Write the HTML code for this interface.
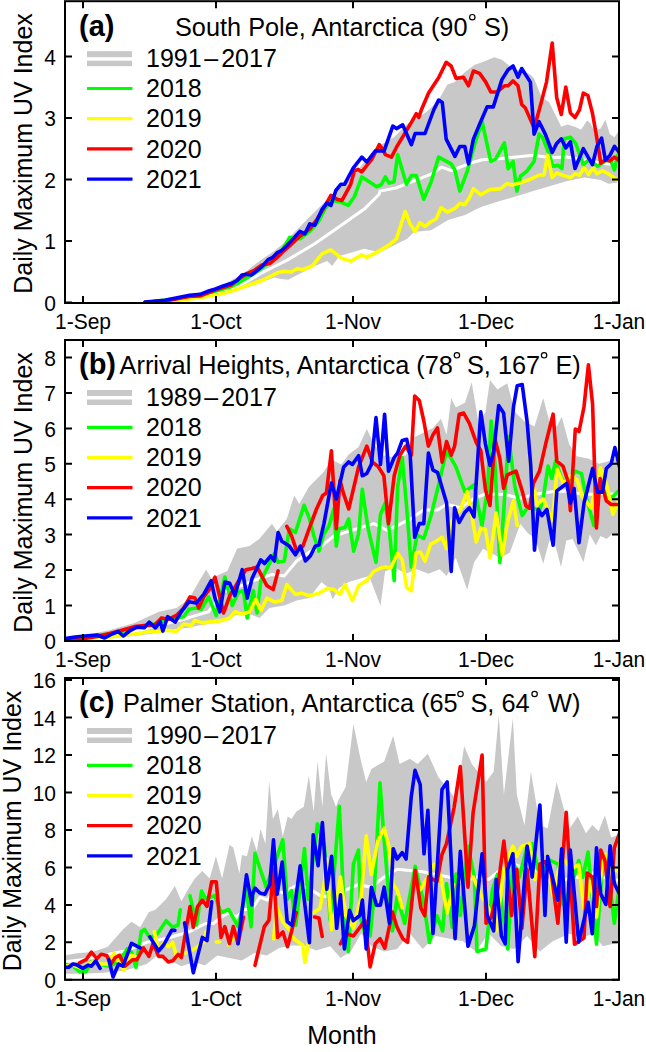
<!DOCTYPE html>
<html><head><meta charset="utf-8">
<style>
html,body{margin:0;padding:0;background:#fff;}
svg{display:block;}
text{font-family:"Liberation Sans",sans-serif;fill:#000;}
</style></head>
<body>
<svg width="646" height="1052" viewBox="0 0 646 1052">
<clipPath id="ca"><rect x="65" y="1.2" width="554" height="301.8"/></clipPath>
<g clip-path="url(#ca)" fill="none" stroke-linejoin="round" stroke-linecap="round">
<path d="M145.0 302.5L145.0 301.5L164.8 299.5L189.5 294.0L200.0 293.7L215.5 288.2L231.0 280.5L246.4 271.2L254.2 265.0L265.0 257.3L274.3 251.1L283.6 243.3L327.2 199.2L351.9 176.9L376.7 147.2L394.0 137.2L408.9 122.4L418.8 117.4L428.7 110.0L438.6 100.1L447.4 84.6L454.9 82.1L464.8 72.2L474.7 64.8L482.1 62.3L494.5 57.3L501.9 59.8L508.1 64.8L514.3 69.7L523.0 71.0L530.4 74.7L534.1 78.4L541.5 97.0L549.0 101.9L555.2 114.5L561.3 126.7L567.4 124.4L575.0 126.7L581.0 129.7L587.1 120.6L590.2 122.9L594.7 131.2L600.8 128.2L605.4 119.8L609.9 134.3L614.5 137.3L620.6 128.2L620.6 182.1L608.4 183.7L600.8 179.9L584.4 177.5L567.3 180.9L550.3 186.0L533.3 191.1L516.2 196.2L499.2 201.3L482.2 206.4L475.4 209.8L465.1 214.9L448.1 220.0L431.1 230.3L414.1 232.0L407.2 238.8L393.6 245.6L380.0 252.4L364.3 248.7L339.5 256.1L332.1 266.0L327.2 261.1L314.8 266.0L288.2 279.7L280.5 278.9L274.3 277.4L261.9 282.0L246.4 287.5L231.0 292.9L215.5 296.7L200.0 298.3L189.5 300.2L164.8 302.7L145.0 302.7L145.0 302.8Z" fill="#c8c8c8" stroke="none"/>
<path d="M145.0 302.5L164.8 301.5L189.5 298.2L200.0 295.7L215.5 292.9L231.0 288.2L246.4 282.0L261.9 272.8L277.4 265.0L286.7 260.4L314.8 243.7L339.5 226.4L364.3 209.1L379.2 194.2L380.0 191.1L397.0 187.7L414.1 180.9L431.1 174.1L441.3 167.2L451.5 170.7L468.6 163.8L482.2 159.8L499.2 158.7L516.2 157.0L533.3 155.3L550.3 157.7L567.3 157.0L600.8 163.1L608.4 163.9L620.6 163.1" stroke="#fff" stroke-width="3"/>
<path d="M145.0 302.5L189.5 297.0L200.0 295.2L215.5 291.3L231.0 286.7L238.7 282.8L246.4 278.2L254.2 273.5L261.9 268.1L269.7 261.9L277.4 255.0L283.6 248.0L289.8 237.2L299.9 238.8L309.8 231.4L318.5 221.5L324.7 209.1L332.1 200.4L339.5 201.6L348.2 205.4L354.4 196.7L361.8 176.9L369.3 181.8L376.7 186.8L381.6 184.3L385.4 176.9L389.1 183.1L394.0 181.8L397.7 154.6L406.4 184.3L411.4 175.6L416.3 175.6L423.7 199.2L431.2 181.8L438.6 157.1L451.1 163.8L454.9 170.0L459.8 191.1L467.2 171.3L474.7 144.0L482.1 121.7L490.8 161.4L495.7 158.9L504.4 142.8L508.1 168.8L513.1 161.4L516.8 191.1L520.5 176.2L526.7 171.3L534.1 161.4L539.1 134.1L542.8 137.8L549.0 153.9L552.9 166.2L558.2 165.4L562.0 168.5L564.3 138.8L570.4 137.3L575.7 143.4L583.3 164.7L588.6 160.1L593.2 163.1L597.8 166.2L602.3 163.1L609.9 157.8L614.5 170.0L617.5 155.5L620.6 151.0" stroke="#00ff00" stroke-width="3.6"/>
<path d="M145.0 302.5L145.0 302.7L164.8 302.0L189.5 299.0L200.0 297.5L215.5 295.2L231.0 291.3L246.4 285.9L261.9 280.5L277.4 272.8L283.6 271.2L291.3 272.0L297.4 268.5L302.4 269.8L312.3 266.0L322.2 253.7L330.9 249.9L342.0 258.6L350.7 261.1L361.8 254.9L366.8 257.4L376.7 252.4L389.1 245.0L396.5 238.8L405.2 211.5L410.1 223.9L415.1 231.4L420.0 222.7L425.0 226.4L431.2 221.5L436.1 219.0L441.1 207.8L447.4 212.1L454.9 208.4L459.8 203.5L464.8 204.7L469.7 197.3L473.4 188.6L480.9 194.8L489.5 189.8L500.7 188.6L506.9 183.7L511.8 184.9L521.7 182.4L531.6 178.7L539.1 175.0L544.0 175.0L547.7 155.2L552.2 177.6L556.7 173.0L562.8 175.3L570.4 177.6L575.0 173.8L579.5 175.3L584.1 167.7L588.6 174.5L593.2 167.7L597.0 173.8L602.3 170.7L608.4 173.8L614.5 178.3L620.6 181.4" stroke="#ffff00" stroke-width="3.6"/>
<path d="M145.0 302.5L145.0 302.4L164.8 301.0L189.5 296.5L200.0 296.0L215.5 289.8L231.0 285.1L238.7 278.9L246.4 274.0L254.2 270.4L261.9 265.0L269.7 263.5L277.4 257.3L283.6 251.1L289.8 245.7L299.9 236.3L309.8 228.9L317.2 219.0L324.7 206.6L330.9 195.4L337.1 199.2L342.0 200.4L350.7 184.3L354.4 170.7L358.1 169.4L361.8 171.9L371.7 159.5L379.2 144.7L382.9 149.6L385.4 154.6L391.5 157.1L396.5 147.2L403.9 134.8L411.4 122.4L416.3 113.7L418.8 117.4L421.3 110.0L428.7 92.7L438.6 77.8L446.2 62.3L451.1 66.0L456.1 78.4L463.5 77.2L468.5 85.8L473.4 71.0L479.6 73.4L485.8 82.1L490.8 92.0L497.0 92.0L504.4 85.8L508.1 85.8L513.1 80.9L518.0 85.8L521.7 104.4L525.4 108.1L534.1 127.9L539.1 110.6L546.5 82.1L552.2 43.0L556.7 97.8L561.3 114.5L565.8 87.1L570.4 113.0L575.0 117.5L579.5 109.9L583.3 93.2L587.9 95.5L592.4 113.0L596.2 134.3L600.8 163.1L605.4 160.1L609.9 160.9L614.5 157.1L620.6 161.6" stroke="#ff0000" stroke-width="3.6"/>
<path d="M145.0 302.5L145.0 302.0L164.8 300.2L189.5 295.3L200.0 294.4L207.7 291.3L215.5 289.0L223.2 285.9L231.0 283.6L237.2 280.5L241.8 275.1L246.4 274.3L251.1 275.1L257.3 270.4L261.9 266.6L268.1 259.6L272.8 257.3L277.4 252.6L282.0 250.3L286.7 245.7L299.9 231.4L304.9 233.8L309.8 223.9L314.8 225.2L322.2 209.1L327.2 202.9L330.9 205.4L335.8 190.5L340.8 184.3L344.5 184.3L353.2 168.2L361.8 157.1L366.8 162.0L375.4 150.9L384.1 150.9L392.8 126.1L396.5 128.6L402.7 124.9L411.4 144.7L415.1 133.5L425.0 133.5L433.7 110.0L438.6 100.1L442.3 102.6L446.2 139.1L454.9 156.4L459.8 146.5L464.8 146.5L468.5 163.8L473.4 139.1L479.6 124.2L487.1 106.9L493.3 106.9L501.9 79.6L508.1 69.7L513.1 66.0L518.0 77.2L521.7 68.5L530.4 82.1L534.1 134.1L539.1 121.7L545.3 134.1L552.2 152.5L556.7 143.4L561.3 138.8L565.8 147.9L570.4 141.9L575.0 168.5L583.3 148.7L592.4 164.7L597.0 146.4L601.6 138.1L605.4 160.1L609.9 155.5L614.5 146.4L620.6 154.0" stroke="#0000ff" stroke-width="3.6"/>
</g>
<rect x="65" y="1.2" width="554" height="301.8" fill="none" stroke="#000" stroke-width="2"/>
<path d="M65 302.5h7M619 302.5h-7M65 241h7M619 241h-7M65 179.5h7M619 179.5h-7M65 118h7M619 118h-7M65 56.5h7M619 56.5h-7M83 1.2v7M83 303v-7M216 1.2v7M216 303v-7M353 1.2v7M353 303v-7M486 1.2v7M486 303v-7" stroke="#000" stroke-width="2"/>
<g font-size="21" text-anchor="end"><text transform="translate(56 302.5) scale(1 1.07)" y="7.6">0</text><text transform="translate(56 241.0) scale(1 1.07)" y="7.6">1</text><text transform="translate(56 179.5) scale(1 1.07)" y="7.6">2</text><text transform="translate(56 118.0) scale(1 1.07)" y="7.6">3</text><text transform="translate(56 56.5) scale(1 1.07)" y="7.6">4</text></g>
<g font-size="21" text-anchor="middle"><text transform="translate(83 321.4) scale(1 1.07)" y="7.2">1-Sep</text><text transform="translate(216 321.4) scale(1 1.07)" y="7.2">1-Oct</text><text transform="translate(353 321.4) scale(1 1.07)" y="7.2">1-Nov</text><text transform="translate(486 321.4) scale(1 1.07)" y="7.2">1-Dec</text><text transform="translate(619 321.4) scale(1 1.07)" y="7.2">1-Jan</text></g>
<text x="79" y="35.5" font-size="29" font-weight="700">(a)</text>
<text x="175" y="35.5" font-size="25.3">South Pole, Antarctica (90</text><text x="484" y="35.5" font-size="25.3">S)</text><circle cx="472.3" cy="17.2" r="2.7" fill="none" stroke="#000" stroke-width="1.2"/>
<rect x="87" y="51.2" width="45" height="15" fill="#c8c8c8"/><rect x="87" y="57.2" width="45" height="3.5" fill="#fff"/>
<g stroke-width="3.2"><path d="M87 88.5H132.5" stroke="#00ff00"/><path d="M87 118.7H132.5" stroke="#ffff00"/><path d="M87 148.9H132.5" stroke="#ff0000"/><path d="M87 179.1H132.5" stroke="#0000ff"/></g>
<g font-size="25"><text x="146" y="66.7">1991<tspan x="204.2">–</tspan><tspan x="221.2">2017</tspan></text><text x="146" y="97.1">2018</text><text x="146" y="127.3">2019</text><text x="146" y="157.5">2020</text><text x="146" y="187.7">2021</text></g>
<clipPath id="cb"><rect x="65" y="340" width="554" height="301"/></clipPath>
<g clip-path="url(#cb)" fill="none" stroke-linejoin="round" stroke-linecap="round">
<path d="M65.0 638.0L84.8 635.3L109.5 630.3L134.3 622.9L159.1 611.7L176.4 608.0L188.8 599.3L198.7 582.0L206.1 569.6L211.1 578.3L227.3 570.9L237.2 548.6L249.6 546.1L259.5 538.7L271.9 523.8L276.9 531.3L286.8 518.9L294.2 495.4L299.2 504.0L309.1 486.7L319.0 476.8L323.9 471.8L331.4 459.4L341.3 464.4L348.7 454.5L358.6 447.1L366.8 429.0L373.7 443.8L382.8 455.2L394.2 457.5L405.6 455.2L414.7 437.0L423.8 432.4L433.0 427.9L440.9 418.8L446.6 434.7L451.2 398.2L455.8 407.4L464.9 402.8L471.7 382.3L478.6 423.3L485.4 411.9L490.0 380.0L497.4 389.5L507.3 383.3L514.7 411.7L524.6 421.6L534.5 426.6L543.2 398.1L549.4 421.6L556.8 426.6L561.7 416.7L569.1 443.9L576.6 456.3L588.9 458.7L598.8 463.7L608.7 461.2L621.1 456.3L628.4 536.0L620.0 536.0L612.9 532.9L606.7 539.1L600.5 536.0L595.9 545.3L589.7 534.4L583.5 562.3L572.6 539.1L566.4 540.6L561.0 566.9L554.1 540.6L549.4 540.6L543.2 563.8L535.5 539.1L527.7 532.9L520.0 523.6L519.7 525.5L509.8 552.7L499.9 557.7L483.1 548.7L474.0 562.4L467.2 589.8L455.8 557.8L446.6 576.1L439.8 569.2L428.4 573.8L417.0 569.2L405.6 573.8L394.2 567.0L385.1 571.5L380.5 605.7L369.1 576.1L348.7 582.0L338.8 588.2L332.6 599.4L328.9 588.2L321.5 582.0L309.1 598.1L296.7 600.6L284.3 605.6L269.4 608.0L259.5 618.0L247.2 613.0L234.8 615.5L222.4 621.7L208.6 624.1L198.7 625.4L188.8 627.8L176.4 629.1L159.1 632.8L134.3 636.0L109.5 638.5L84.8 639.5L65.0 640.0Z" fill="#c8c8c8" stroke="none"/>
<path d="M65.0 638.5L84.8 637.7L109.5 635.3L134.3 631.5L159.1 625.4L183.8 619.2L196.2 615.4L208.6 611.7L222.4 592.0L234.8 588.2L247.2 583.3L259.5 578.3L271.9 574.6L284.3 575.9L296.7 561.0L309.1 552.3L321.5 546.1L333.8 536.2L348.7 531.3L373.7 523.6L387.4 530.5L396.5 525.9L410.2 519.1L423.8 510.0L437.5 510.0L446.6 504.3L460.3 507.7L474.0 498.6L485.4 494.0L504.8 494.6L519.7 498.3L534.5 494.6L549.4 492.1L564.2 490.9L579.0 493.4L593.9 494.6L608.7 493.4L621.1 495.8" stroke="#fff" stroke-width="3"/>
<path d="M65.0 639.0L84.8 638.0L97.2 635.3L109.5 634.0L121.9 631.5L134.3 627.8L146.7 625.4L159.1 622.9L169.0 617.9L176.4 617.9L183.8 616.7L188.8 609.3L196.2 608.0L201.2 609.3L208.6 596.9L216.2 615.5L224.9 577.1L232.3 605.6L238.5 592.0L243.4 590.7L247.2 618.0L253.3 590.7L257.1 613.0L260.8 580.8L267.0 568.4L274.4 553.6L278.1 562.2L284.3 561.0L289.3 528.8L295.4 532.5L304.1 505.3L309.1 517.6L314.0 536.2L319.0 551.1L323.9 533.7L328.9 526.3L333.8 509.0L336.3 546.1L338.8 528.8L345.0 527.6L348.7 518.9L353.7 551.1L358.6 533.7L362.3 489.4L368.0 528.2L376.0 562.4L380.5 514.5L385.1 503.1L389.6 532.8L394.2 580.6L397.6 487.2L402.2 457.5L406.7 507.7L411.3 567.0L417.0 535.0L423.8 538.5L430.7 516.8L437.5 489.4L446.6 450.7L455.8 466.6L464.9 491.7L474.0 484.9L482.0 525.9L487.7 487.2L491.1 421.0L494.9 463.7L499.9 562.6L503.6 513.1L508.6 436.5L514.7 485.9L522.2 515.6L527.1 508.2L533.3 508.2L539.5 510.7L543.2 498.3L548.1 466.1L551.8 478.5L555.5 461.2L561.7 478.5L566.7 483.5L575.3 471.1L581.5 473.6L586.5 498.3L593.9 525.5L600.1 485.9L603.8 490.9L611.2 498.3L621.1 488.4" stroke="#00ff00" stroke-width="3.6"/>
<path d="M65.0 639.0L84.8 638.5L97.2 637.0L109.5 637.0L121.9 635.3L134.3 634.0L146.7 632.0L159.1 631.5L166.5 630.3L176.4 631.5L183.8 624.1L191.3 625.4L195.0 620.4L202.4 622.9L208.6 622.1L222.4 620.4L229.8 618.0L234.8 611.8L242.2 614.2L249.6 611.8L255.8 599.4L260.8 610.5L267.0 598.1L274.4 601.9L281.8 600.6L286.8 584.5L295.4 594.4L301.6 593.2L309.1 595.7L319.0 593.2L327.6 588.2L333.8 589.5L340.0 594.4L345.0 584.5L352.4 600.6L358.6 585.8L366.8 580.6L373.7 571.5L380.5 568.1L386.2 567.0L390.8 568.1L397.6 553.3L402.2 560.1L406.7 587.5L411.3 590.9L415.9 553.3L420.4 552.1L425.0 561.3L430.7 544.2L435.2 541.9L442.1 537.3L446.6 548.7L451.2 521.4L455.8 514.5L460.3 510.0L467.2 491.7L471.7 514.5L476.3 541.9L480.8 528.2L485.4 529.3L490.0 557.8L496.2 513.1L502.4 555.2L507.3 523.0L513.5 500.8L517.2 525.5M529.3 455.5L537.0 505.0L543.2 498.8L552.5 520.5L557.2 469.4L563.3 483.3L571.1 475.6L577.3 480.2L581.9 495.7L591.2 508.1L600.5 467.9L606.7 484.9L612.9 514.3L620.0 497.3L628.4 498.8" stroke="#ffff00" stroke-width="3.6"/>
<path d="M65.0 639.5L84.8 638.5L97.2 636.5L109.5 633.5L121.9 630.3L134.3 626.6L146.7 625.4L154.1 625.4L161.5 617.9L169.0 619.2L176.4 615.4L183.8 608.0L190.0 596.9L195.0 598.1L198.7 608.0L203.7 596.9L211.1 587.0L215.0 577.1L223.6 613.0L229.8 595.7L237.2 583.3L245.9 569.7L252.1 568.4L257.1 567.2L267.0 585.8L273.2 589.5L278.1 570.9M286.8 526.3L291.7 536.2L296.7 551.1L302.9 546.1L309.1 528.8L316.5 509.0L322.7 495.4L326.4 492.9L331.4 450.8L336.3 528.8L340.0 480.5L343.7 494.1L348.7 509.0L358.6 466.9L366.8 446.1L372.5 462.1L378.2 466.6L383.9 475.8L388.5 523.6L394.2 475.8L399.9 455.2L405.6 446.1L411.3 455.2L414.7 396.0L419.3 400.5L423.8 421.0L428.4 446.1L433.0 434.7L437.5 427.9L442.1 462.1L446.6 441.6L451.2 455.2L454.6 446.1L459.2 414.2L463.7 413.1L469.4 423.3L476.3 442.7L480.8 450.7L485.4 489.4L490.0 505.4L494.9 438.9L499.9 458.7L503.6 488.4L507.3 474.8L516.0 471.1L522.2 490.9L525.9 505.7L529.6 508.2L533.3 483.5L539.5 471.1L545.7 443.9L553.1 414.2L556.8 461.2L563.0 466.1L567.9 481.0L570.4 510.7L575.3 429.0L579.0 431.5L584.0 406.8L588.4 364.7L592.6 404.3L596.4 528.0L600.1 478.5L606.3 500.8L611.2 504.5L621.1 504.5" stroke="#ff0000" stroke-width="3.6"/>
<path d="M65.0 638.5L74.9 637.0L84.8 636.0L97.2 635.0L104.6 638.0L112.0 634.0L118.2 631.5L123.2 636.0L130.6 630.3L136.8 627.1L144.2 627.8L149.2 622.1L155.4 627.8L160.3 621.6L162.8 631.1L167.7 616.7L175.2 622.1L181.4 611.7L188.8 601.8L196.2 603.1L203.7 594.4L211.1 580.8L215.0 598.1L219.9 611.8L224.9 582.0L229.8 583.3L234.8 595.7L242.2 569.7L247.2 598.1L252.1 578.3L260.8 559.8L264.5 563.5L270.7 556.0L274.4 561.0L278.1 532.5L281.8 541.2L289.3 546.1L295.4 554.8L300.4 546.1L305.4 561.0L310.3 556.0L315.3 546.1L319.0 544.9L323.9 523.8L331.4 483.0L336.3 499.1L343.7 466.9L348.7 461.9L352.4 464.4L358.6 455.7L362.3 475.8L366.8 473.5L371.4 464.4L376.0 417.6L380.5 464.4L384.6 414.2L388.5 471.2L394.2 457.5L397.6 453.0L402.2 440.4L406.7 439.3L410.2 455.2L414.7 537.3L419.3 523.6L423.8 523.6L428.4 453.0L433.0 470.1L437.5 472.3L446.6 503.1L451.2 571.5L454.6 507.7L459.2 522.5L464.9 512.2L469.4 507.7L474.0 516.8L480.8 411.9L485.4 443.8L490.0 465.5L493.7 451.3L498.7 405.5L503.6 413.0L508.6 461.2L513.5 406.8L517.2 385.8L522.2 384.5L527.1 421.6L530.8 466.1L534.5 550.2L538.2 509.4L541.9 515.6L546.9 509.4L553.1 545.3L556.8 490.9L566.7 483.5L570.4 503.2L574.1 488.4L579.0 542.8L584.0 503.2L592.6 468.6L597.6 492.1L602.5 492.1L606.3 468.6L611.2 463.7L614.9 447.6L621.1 473.6" stroke="#0000ff" stroke-width="3.6"/>
</g>
<rect x="65" y="340" width="554" height="301" fill="none" stroke="#000" stroke-width="2"/>
<path d="M65 640.8h7M619 640.8h-7M65 605.4h7M619 605.4h-7M65 570.0h7M619 570.0h-7M65 534.5999999999999h7M619 534.5999999999999h-7M65 499.19999999999993h7M619 499.19999999999993h-7M65 463.79999999999995h7M619 463.79999999999995h-7M65 428.4h7M619 428.4h-7M65 393.0h7M619 393.0h-7M65 357.59999999999997h7M619 357.59999999999997h-7M83 340v7M83 641v-7M216 340v7M216 641v-7M353 340v7M353 641v-7M486 340v7M486 641v-7" stroke="#000" stroke-width="2"/>
<g font-size="21" text-anchor="end"><text transform="translate(56 640.8) scale(1 1.07)" y="7.6">0</text><text transform="translate(56 605.4) scale(1 1.07)" y="7.6">1</text><text transform="translate(56 570.0) scale(1 1.07)" y="7.6">2</text><text transform="translate(56 534.6) scale(1 1.07)" y="7.6">3</text><text transform="translate(56 499.2) scale(1 1.07)" y="7.6">4</text><text transform="translate(56 463.8) scale(1 1.07)" y="7.6">5</text><text transform="translate(56 428.4) scale(1 1.07)" y="7.6">6</text><text transform="translate(56 393.0) scale(1 1.07)" y="7.6">7</text><text transform="translate(56 357.6) scale(1 1.07)" y="7.6">8</text></g>
<g font-size="21" text-anchor="middle"><text transform="translate(83 659.4) scale(1 1.07)" y="7.2">1-Sep</text><text transform="translate(216 659.4) scale(1 1.07)" y="7.2">1-Oct</text><text transform="translate(353 659.4) scale(1 1.07)" y="7.2">1-Nov</text><text transform="translate(486 659.4) scale(1 1.07)" y="7.2">1-Dec</text><text transform="translate(619 659.4) scale(1 1.07)" y="7.2">1-Jan</text></g>
<text x="79" y="374.3" font-size="29" font-weight="700">(b)</text>
<text x="119.6" y="373.6" font-size="25.3">Arrival Heights, Antarctica (78</text><text x="467" y="373.6" font-size="25.3">S, 167</text><text x="555.4" y="373.6" font-size="25.3">E)</text><circle cx="456.9" cy="355.3" r="2.7" fill="none" stroke="#000" stroke-width="1.2"/><circle cx="544.1" cy="355.3" r="2.7" fill="none" stroke="#000" stroke-width="1.2"/>
<rect x="87" y="390.0" width="45" height="15" fill="#c8c8c8"/><rect x="87" y="396.0" width="45" height="3.5" fill="#fff"/>
<g stroke-width="3.2"><path d="M87 427.3H132.5" stroke="#00ff00"/><path d="M87 457.5H132.5" stroke="#ffff00"/><path d="M87 487.7H132.5" stroke="#ff0000"/><path d="M87 517.9H132.5" stroke="#0000ff"/></g>
<g font-size="25"><text x="146" y="405.5">1989<tspan x="204.2">–</tspan><tspan x="221.2">2017</tspan></text><text x="146" y="435.9">2018</text><text x="146" y="466.1">2019</text><text x="146" y="496.3">2020</text><text x="146" y="526.5">2021</text></g>
<clipPath id="cc"><rect x="65" y="678" width="554" height="301.79999999999995"/></clipPath>
<g clip-path="url(#cc)" fill="none" stroke-linejoin="round" stroke-linecap="round">
<path d="M64.3 955.4L77.3 953.2L92.5 952.1L107.7 946.7L122.9 929.4L131.5 921.8L140.2 927.2L148.9 912.0L155.4 909.8L166.2 899.0L174.9 886.0L181.4 901.2L190.0 886.0L194.9 878.5L202.3 871.1L209.7 878.5L215.9 856.2L222.1 878.5L229.5 845.1L233.3 847.6L239.4 873.6L241.9 855.0L246.9 856.2L251.8 836.4L256.8 851.3L260.5 829.0L265.4 843.8L269.2 780.7L272.9 819.1L277.8 809.2L282.8 836.4L287.7 816.6L291.5 819.1L296.4 811.6L303.8 806.7L308.8 775.7L313.7 811.6L317.5 760.9L322.4 806.7L326.1 753.4L331.1 794.3L336.0 806.7L338.5 799.9L345.7 787.1L353.4 724.1L361.1 761.4L366.2 781.9L371.4 769.1L384.2 761.4L393.2 735.7L399.6 763.9L409.9 758.8L417.6 763.9L427.9 753.7L438.2 776.8L448.4 789.6L456.4 799.9L464.1 746.0L471.8 763.9L475.7 769.1L486.0 781.9L493.7 771.6L498.8 715.1L503.9 794.8L512.9 717.7L516.8 794.8L524.5 825.6L530.9 771.6L539.9 825.6L547.6 828.2L556.6 781.9L569.3 829.1L577.7 816.5L586.0 833.3L592.3 824.9L598.6 831.2L604.9 815.5L611.2 837.4L623.7 833.3L623.7 942.1L611.2 944.2L602.8 946.3L592.3 933.7L581.9 937.9L569.3 933.7L552.7 941.2L539.9 951.5L527.1 936.0L514.2 948.9L501.4 946.3L488.5 933.5L475.7 951.5L462.8 941.2L448.4 938.6L435.6 936.0L422.7 948.9L409.9 933.5L397.1 948.9L384.2 951.5L371.4 946.3L361.1 933.5L350.8 951.5L340.5 957.9L330.3 946.3L316.2 950.5L303.8 945.6L291.5 945.6L279.1 948.0L266.7 955.5L254.3 953.0L241.9 960.4L229.5 958.0L217.2 955.5L204.8 965.4L194.4 961.9L181.4 966.2L168.4 959.7L157.5 955.4L146.7 964.0L125.0 970.5L103.3 972.7L81.7 973.8L64.3 973.8Z" fill="#c8c8c8" stroke="none"/>
<path d="M64.3 961.9L81.7 959.7L103.3 955.4L125.0 951.0L146.7 942.4L168.4 938.0L190.0 931.5L205.5 923.5L213.2 923.5L221.0 917.3L228.7 912.6L236.4 917.3L244.2 909.5L251.9 909.5L259.7 897.2L267.4 900.2L273.6 891.0L282.9 892.5L298.4 884.5L309.2 888.9L320.0 895.4L332.8 897.5L345.7 889.8L358.5 884.7L371.4 887.2L384.2 877.0L397.1 869.3L409.9 870.5L422.7 871.8L435.6 874.4L448.4 877.0L462.8 882.1L475.7 877.0L488.5 879.5L501.4 869.3L514.2 864.1L527.1 869.3L539.9 871.8L552.7 884.7L571.4 877.2L581.9 877.2L592.3 873.0L602.8 877.2L623.7 881.4" stroke="#fff" stroke-width="3"/>
<path d="M64.3 964.0L73.0 966.2L79.5 971.6L86.0 971.6L91.4 961.9L99.0 964.0L109.8 966.2L116.4 962.9L121.8 957.5L127.2 948.9L131.5 952.1L135.9 967.3L141.3 931.5L144.5 929.4L149.9 938.0L157.5 933.7L166.2 920.7L172.7 927.2L178.1 925.0L180.3 909.8M190.0 895.8L196.5 925.0L201.6 891.0L205.5 898.7L214.8 895.6L221.0 912.6L228.7 909.5L238.0 926.6L246.5 890.2L251.1 926.6L252.5 900.5L255.0 853.4L266.1 886.9L273.5 867.1L282.8 839.8L287.2 899.3L291.5 890.6L295.8 925.3L304.5 848.5L308.2 899.3L311.9 869.5L317.5 823.7L324.3 844.8L330.3 920.6L339.3 806.3L344.4 915.5L348.3 951.5L353.4 864.1L358.5 850.0L361.1 920.6L365.0 933.5L370.1 936.0L373.9 897.5L380.0 782.8L383.8 836.0L388.6 893.0L392.4 931.0L397.1 896.8L404.7 923.4L415.2 866.4L423.7 902.5L429.4 942.4L437.0 915.8L442.7 931.0L446.5 883.5L452.2 927.2L456.0 874.0L460.3 915.5L468.0 846.1L474.4 877.0L477.0 951.5L486.0 948.9L492.4 889.8L497.5 874.4L507.8 948.9L512.9 861.6L519.4 877.0L527.1 846.1L532.2 843.6L539.9 877.0L547.6 859.0L557.9 864.1L563.0 904.4L570.3 889.8L578.7 860.5L582.9 877.2L588.1 852.1L596.5 944.2L602.8 862.6L609.1 877.2L614.3 923.2L619.5 885.6L623.7 881.4" stroke="#00ff00" stroke-width="3.6"/>
<path d="M64.3 966.2L73.0 965.1L81.7 968.4L92.5 961.9L101.2 964.0L107.7 964.0L114.2 953.2L118.5 961.9L123.9 970.5L131.5 955.4L138.0 957.5M154.3 931.5L158.6 951.0L164.0 942.4L168.4 946.7L172.7 942.4L177.0 957.5M185.7 953.2L194.4 948.9L203.9 942.0L206.3 931.2M216.3 942.0L219.4 942.0M228.7 945.1L234.9 934.3M273.6 938.9L276.7 906.4L282.9 921.9L289.7 930.0L294.0 938.7L302.7 945.2L304.9 962.5L309.2 938.7M313.5 912.7L320.0 908.4L324.4 882.4L326.4 859.0L331.6 929.6L340.5 877.0L345.7 915.5L353.4 928.3L361.1 897.5L366.2 835.9L371.4 874.4L377.8 841.0L384.2 828.2L389.4 848.7L393.2 884.7L397.1 889.8L402.2 907.8M420.2 889.8L427.9 877.0L434.3 864.1L440.7 877.0L447.2 912.9L453.6 884.7M473.1 877.0L480.8 894.9L488.5 907.8L496.2 930.9L503.9 869.3L512.9 846.1L516.8 856.4L521.9 846.1L529.6 843.6L534.8 879.5L547.6 856.4L552.7 894.9L560.5 861.6L565.1 860.5L571.4 868.8L578.7 864.6L584.0 908.6L590.2 881.4L596.5 917.0L602.8 858.4L605.9 854.2L611.2 868.8L623.7 873.0" stroke="#ffff00" stroke-width="3.6"/>
<path d="M79.5 962.9L86.0 959.7L91.4 952.1L96.8 958.6L101.2 954.3L106.6 955.4L110.9 964.0L115.3 957.5L119.6 955.4L125.0 966.2L132.6 959.7L136.9 959.7L143.4 947.8L148.9 956.4L153.2 943.4L158.6 956.4L162.9 956.4L168.4 961.9L172.7 960.8L178.1 954.3L181.4 957.5L185.7 931.5L190.0 906.6L193.3 927.2L197.6 906.6L202.4 900.2L207.0 906.4L211.7 881.7L216.3 881.7L221.0 937.4L224.8 926.6L229.5 943.6L233.3 926.6L238.0 943.6L243.4 917.3M255.0 965.3L264.3 926.6L268.9 920.4L273.6 869.3L277.5 937.4L282.9 932.0L287.5 946.7L291.9 930.0L296.2 912.7M314.6 917.0L319.0 918.1L322.2 936.5M340.5 943.8L345.7 933.5L353.4 936.0L365.0 920.6L370.1 966.9L375.2 943.8L380.0 938.6L384.8 948.1L392.4 912.0L397.1 927.2L402.8 938.6L407.6 942.4L415.2 870.2L420.9 908.2L424.7 915.8L428.5 876.9L437.0 881.6L441.8 855.0L446.5 843.6L454.1 807.5L460.3 766.5L468.0 887.2L473.1 812.7L482.1 755.0L486.0 923.2L491.1 918.1L497.5 889.8L503.9 841.0L511.6 915.5L516.8 869.3L521.9 928.3L527.1 869.3L534.8 956.6L539.9 864.1L545.0 861.6L551.5 874.4L557.9 923.2L566.2 812.3L574.5 944.2L584.0 937.9L587.1 873.0L592.3 877.2L596.5 906.5L600.7 850.0L604.9 860.5L610.1 906.5L614.3 847.9L619.5 833.3L623.7 829.1" stroke="#ff0000" stroke-width="3.6"/>
<path d="M64.3 967.3L68.7 967.3L73.0 964.0L77.3 965.1L82.8 968.4L88.2 965.1L91.4 966.2L95.8 960.8L100.1 968.4M108.8 959.7L113.1 977.0L118.5 964.0L122.9 966.2L131.5 943.4L140.2 947.8M149.9 936.9L158.6 951.0L164.0 944.5L171.6 930.4L174.9 930.4M184.6 922.9L193.3 972.7L202.4 937.4L207.0 940.5L211.7 901.8M238.0 943.6L246.5 874.7L251.9 904.9L252.5 894.3L255.0 888.1L259.9 893.1L264.9 894.3L269.8 884.4L273.5 839.8L277.2 894.3L282.2 862.1L287.2 921.5L292.1 925.3L300.2 865.8L309.4 942.6L313.2 834.9L318.1 865.8L322.4 822.5L326.8 889.3L331.6 856.4L336.7 928.3L340.5 894.9L344.4 948.9L349.5 910.4L353.4 920.6L359.8 915.5L362.4 900.1L366.2 948.9L371.4 887.2L376.5 905.2L380.4 905.2L384.2 887.2L389.4 923.2L393.2 848.7L397.1 859.0L402.2 852.6L406.1 859.0L411.2 797.3L415.0 770.4L420.2 784.5L424.0 853.8L427.9 810.2L433.0 933.5L442.0 789.6L447.2 781.9L454.9 936.0L455.1 938.6L460.3 851.3L468.0 946.3L474.4 925.8L482.1 853.8L487.2 915.5L493.7 930.9L496.2 879.5L501.4 936.0L505.2 943.8L507.8 869.3L512.9 853.8L518.1 961.7L527.1 846.1L532.2 877.0L539.9 805.0L545.0 915.5L547.6 856.4L557.9 900.1L561.7 848.7L566.2 942.1L570.3 850.0L578.7 942.1L588.1 902.3L592.3 933.7L596.5 847.9L600.7 893.9L605.9 904.4L610.1 845.8L614.3 883.5L619.5 893.9L623.7 898.1" stroke="#0000ff" stroke-width="3.6"/>
</g>
<rect x="65" y="678" width="554" height="301.79999999999995" fill="none" stroke="#000" stroke-width="2"/>
<path d="M65 979.8h7M619 979.8h-7M65 942.3399999999999h7M619 942.3399999999999h-7M65 904.88h7M619 904.88h-7M65 867.42h7M619 867.42h-7M65 829.9599999999999h7M619 829.9599999999999h-7M65 792.5h7M619 792.5h-7M65 755.04h7M619 755.04h-7M65 717.5799999999999h7M619 717.5799999999999h-7M65 680.1199999999999h7M619 680.1199999999999h-7M83 678v7M83 979.8v-7M216 678v7M216 979.8v-7M353 678v7M353 979.8v-7M486 678v7M486 979.8v-7" stroke="#000" stroke-width="2"/>
<g font-size="21" text-anchor="end"><text transform="translate(56 979.8) scale(1 1.07)" y="7.6">0</text><text transform="translate(56 942.3) scale(1 1.07)" y="7.6">2</text><text transform="translate(56 904.9) scale(1 1.07)" y="7.6">4</text><text transform="translate(56 867.4) scale(1 1.07)" y="7.6">6</text><text transform="translate(56 830.0) scale(1 1.07)" y="7.6">8</text><text transform="translate(56 792.5) scale(1 1.07)" y="7.6">10</text><text transform="translate(56 755.0) scale(1 1.07)" y="7.6">12</text><text transform="translate(56 717.6) scale(1 1.07)" y="7.6">14</text><text transform="translate(56 680.1) scale(1 1.07)" y="7.6">16</text></g>
<g font-size="21" text-anchor="middle"><text transform="translate(83 998.2) scale(1 1.07)" y="7.2">1-Sep</text><text transform="translate(216 998.2) scale(1 1.07)" y="7.2">1-Oct</text><text transform="translate(353 998.2) scale(1 1.07)" y="7.2">1-Nov</text><text transform="translate(486 998.2) scale(1 1.07)" y="7.2">1-Dec</text><text transform="translate(619 998.2) scale(1 1.07)" y="7.2">1-Jan</text></g>
<text x="79" y="712.3" font-size="29" font-weight="700">(c)</text>
<text x="123" y="712.3" font-size="25.3">Palmer Station, Antarctica (65</text><text x="470.5" y="712.3" font-size="25.3">S, 64</text><text x="548" y="712.3" font-size="25.3">W)</text><circle cx="460.5" cy="694.0" r="2.7" fill="none" stroke="#000" stroke-width="1.2"/><circle cx="534.6" cy="694.0" r="2.7" fill="none" stroke="#000" stroke-width="1.2"/>
<rect x="87" y="728.0" width="45" height="15" fill="#c8c8c8"/><rect x="87" y="734.0" width="45" height="3.5" fill="#fff"/>
<g stroke-width="3.2"><path d="M87 765.3H132.5" stroke="#00ff00"/><path d="M87 795.5H132.5" stroke="#ffff00"/><path d="M87 825.7H132.5" stroke="#ff0000"/><path d="M87 855.9H132.5" stroke="#0000ff"/></g>
<g font-size="25"><text x="146" y="743.5">1990<tspan x="204.2">–</tspan><tspan x="221.2">2017</tspan></text><text x="146" y="773.9">2018</text><text x="146" y="804.1">2019</text><text x="146" y="834.3">2020</text><text x="146" y="864.5">2021</text></g>
<text transform="translate(31.6 153.5) rotate(-90)" text-anchor="middle" font-size="25">Daily Maximum UV Index</text><text transform="translate(31.6 492.5) rotate(-90)" text-anchor="middle" font-size="25">Daily Maximum UV Index</text><text transform="translate(21.4 831) rotate(-90)" text-anchor="middle" font-size="25">Daily Maximum UV Index</text>
<text x="342" y="1044" text-anchor="middle" font-size="25">Month</text>
</svg>
</body></html>
